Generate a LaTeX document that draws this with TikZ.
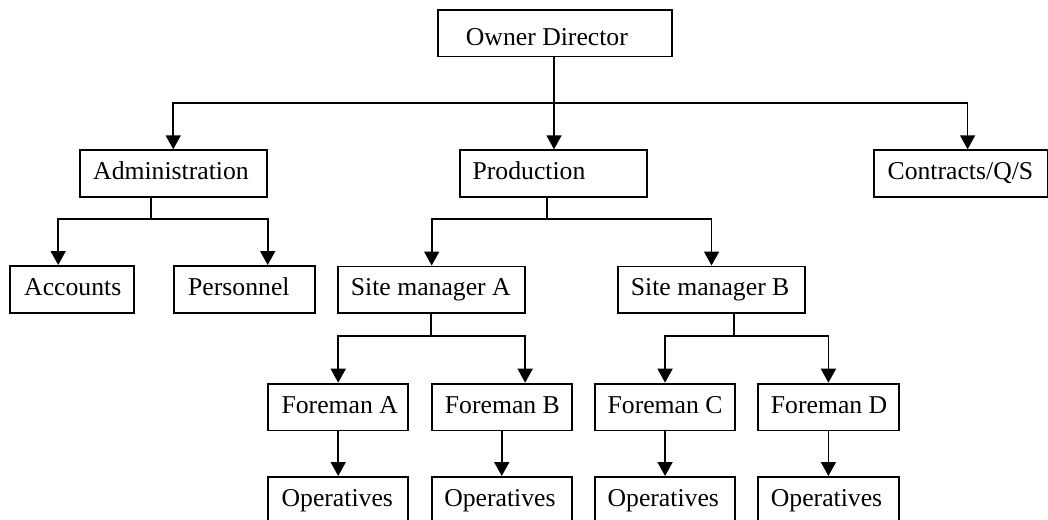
\documentclass[tikz,border=0pt]{standalone}
\usepackage{fontspec}
\setmainfont{Liberation Serif}
\usetikzlibrary{arrows.meta}

\tikzset{
  orgbox/.style={draw, line width=1.8pt, rectangle, anchor=north west,
    inner xsep=0pt, inner ysep=0pt, align=flush left,
    text height=18pt, text depth=6pt, minimum height=46.8pt,
    font=\fontsize{25.7pt}{30pt}\selectfont},
  conn/.style={line width=1.7pt},
  arr/.style={conn, -{Triangle[length=14pt,width=15pt]}}
}

\begin{document}
\begin{tikzpicture}[x=1pt,y=-1pt]
\useasboundingbox (0,0) rectangle (1048,519);
\clip (0,0) rectangle (1048,519);

% top level
\node[orgbox, text width=234pt, text height=23.6pt, text depth=0pt, minimum height=46.4pt]
  (od) at (437,9.3) {\hspace*{28pt}Owner Director};

% departments
\node[orgbox, text width=186.7pt] (adm)  at (79,149.3)  {\hspace*{13.3pt}Administration};
\node[orgbox, text width=187pt]   (prod) at (459,149.3) {\hspace*{12.7pt}Production};
\node[orgbox, text width=174pt]   (con)  at (873,149.3) {\hspace*{13.7pt}Contracts/Q/S};

% second level
\node[orgbox, text width=123.4pt] (acc) at (9.3,265)   {\hspace*{14pt}Accounts};
\node[orgbox, text width=141pt]   (per) at (173.3,265) {\hspace*{14pt}Personnel};
\node[orgbox, text width=187pt]   (sma) at (337.3,265.5) {\hspace*{12.7pt}Site manager A};
\node[orgbox, text width=187.3pt] (smb) at (617,265.5)   {\hspace*{13pt}Site manager B};

% foremen
\node[orgbox, text width=140pt]   (fa) at (267.3,382.7) {\hspace*{13.4pt}Foreman A};
\node[orgbox, text width=140.3pt] (fb) at (430.7,382.7) {\hspace*{13.3pt}Foreman B};
\node[orgbox, text width=140.3pt] (fc) at (594,382.7)   {\hspace*{12.7pt}Foreman C};
\node[orgbox, text width=140.4pt] (fd) at (757.3,382.7) {\hspace*{12.7pt}Foreman D};

% operatives
\node[orgbox, text width=140pt]   (opa) at (267.3,476) {\hspace*{13.4pt}Operatives};
\node[orgbox, text width=140.3pt] (opb) at (430.7,476) {\hspace*{12.7pt}Operatives};
\node[orgbox, text width=140.3pt] (opc) at (594,476)   {\hspace*{12.7pt}Operatives};
\node[orgbox, text width=140.4pt] (opd) at (757.3,476) {\hspace*{12.7pt}Operatives};

% director to departments
\coordinate (j0) at (554,103);
\draw[arr] (j0 |- od.south) -- (j0 |- prod.north);
\draw[arr] (j0) -| (adm.north);
\draw[arr] (j0) -| ([xshift=6.7pt]con.north);

% administration
\coordinate (j1) at (150.7,218.7);
\draw[conn] (j1 |- adm.south) -- (j1);
\draw[arr] (j1) -| ([xshift=-13.7pt]acc.north);
\draw[arr] (j1) -| ([xshift=23pt]per.north);

% production
\coordinate (j2) at (547.3,219.3);
\draw[conn] (j2 |- prod.south) -- (j2);
\draw[arr] (j2) -| (sma.north);
\draw[arr] (j2) -| (smb.north);

% site manager A
\coordinate (j3) at (430.7,336);
\draw[conn] (j3 |- sma.south) -- (j3);
\draw[arr] (j3) -| (fa.north);
\draw[arr] (j3) -| ([xshift=23.4pt]fb.north);

% site manager B
\coordinate (j4) at (734.3,336);
\draw[conn] (j4 |- smb.south) -- (j4);
\draw[arr] (j4) -| (fc.north);
\draw[arr] (j4) -| (fd.north);

% foremen to operatives
\draw[arr] (fa) -- (opa);
\draw[arr] (fb) -- (opb);
\draw[arr] (fc) -- (opc);
\draw[arr] (fd) -- (opd);
\end{tikzpicture}
\end{document}
